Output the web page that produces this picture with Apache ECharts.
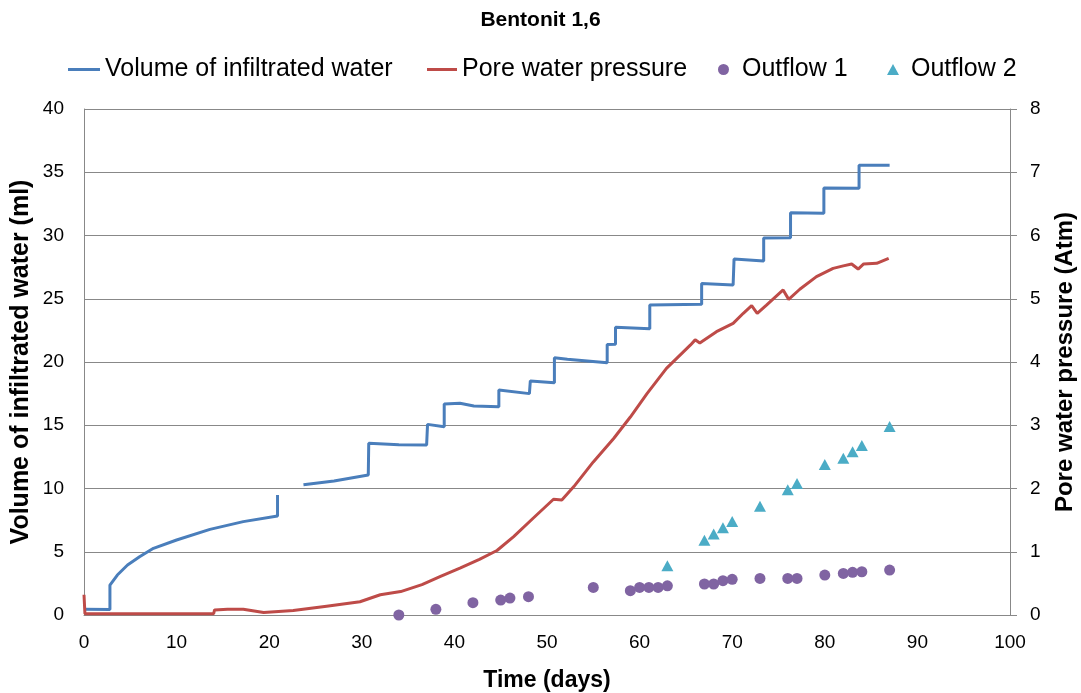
<!DOCTYPE html>
<html>
<head>
<meta charset="utf-8">
<script src="https://cdn.jsdelivr.net/npm/echarts@6/dist/echarts.min.js"></script>
<style>
  html, body { margin: 0; padding: 0; background: #fff; }
  #chart { width: 1081px; height: 693px; }
</style>
</head>
<body>
<div id="chart"></div>
<script>
// Volume of infiltrated water (ml) against time (days); null marks the logging gap
const volDays   = [0, 2.8, 2.8, 3.6, 4.7, 6.0, 7.5, 10.0, 13.6, 17.2, 20.9, 20.9, null,
                   23.7, 27.0, 30.7, 30.75, 34.0, 37.0, 37.1, 38.9, 38.9, 40.6, 42.1, 44.8, 44.8,
                   48.1, 48.2, 50.8, 50.8, 52.2, 56.5, 56.5, 57.4, 57.4, 61.1, 61.1, 66.7, 66.7,
                   70.1, 70.2, 73.4, 73.4, 76.3, 76.3, 79.9, 79.9, 83.7, 83.7, 87.0];
const volValues = [0.45, 0.43, 2.37, 3.16, 3.95, 4.6, 5.27, 5.93, 6.77, 7.38, 7.83, 9.49, null,
                   10.3, 10.6, 11.07, 13.57, 13.45, 13.44, 15.07, 14.89, 16.68, 16.74, 16.52, 16.47, 17.79,
                   17.5, 18.5, 18.36, 20.34, 20.21, 19.94, 21.38, 21.4, 22.75, 22.62, 24.5, 24.56, 26.2,
                   26.09, 28.14, 27.98, 29.8, 29.83, 31.8, 31.75, 33.75, 33.73, 35.55, 35.55];

// Pore water pressure (Atm) against time (days)
const pressDays   = [0, 0.1, 14.0, 14.1, 15.5, 17.2, 19.4, 22.6, 26.2, 29.8, 32.0, 34.2, 36.5, 38.5, 40.6,
                     42.7, 44.6, 46.4, 48.5, 50.7, 51.6, 52.9, 55.0, 57.2, 59.0, 60.8, 62.9, 65.5, 66.0,
                     66.5, 68.3, 70.1, 71.2, 72.1, 72.7, 73.7, 75.5, 76.1, 77.3, 79.1, 80.9, 82.0,
                     82.9, 83.6, 84.2, 85.6, 86.9];
const pressValues = [0.32, 0.02, 0.02, 0.08, 0.09, 0.09, 0.04, 0.07, 0.14, 0.21, 0.32, 0.37, 0.48, 0.61, 0.74,
                     0.88, 1.02, 1.24, 1.53, 1.83, 1.82, 2.03, 2.42, 2.79, 3.13, 3.5, 3.9, 4.27, 4.35,
                     4.3, 4.48, 4.61, 4.77, 4.89, 4.77, 4.9, 5.14, 4.99, 5.15, 5.35, 5.48, 5.52,
                     5.55, 5.47, 5.55, 5.56, 5.64];

// Outflow measurements (ml)
const out1Days   = [34, 38, 42, 45, 46, 48, 55, 59, 60, 61, 62, 63, 67, 68, 69, 70, 73, 76, 77, 80, 82, 83, 84, 87];
const out1Values = [0, 0.45, 0.97, 1.18, 1.34, 1.45, 2.18, 1.92, 2.18, 2.18, 2.18, 2.31, 2.45, 2.45,
                    2.71, 2.82, 2.89, 2.89, 2.89, 3.16, 3.29, 3.37, 3.42, 3.55];
const out2Days   = [63, 67, 68, 69, 70, 73, 76, 77, 80, 82, 83, 84, 87];
const out2Values = [3.9, 5.9, 6.4, 6.9, 7.4, 8.6, 9.9, 10.4, 11.9, 12.4, 12.9, 13.4, 14.9];

const seriesNames = ['Volume of infiltrated water', 'Pore water pressure', 'Outflow 1', 'Outflow 2'];
const colors = ['#4A7EBB', '#BE4B48', '#8064A2', '#4BACC6'];

const pairs = (xs, ys) => xs.map((x, i) => (x === null || ys[i] === null) ? ['-', '-'] : [x, ys[i]]);

const FONT = '"Liberation Sans", Arial, sans-serif';
const gridColor = '#888888';

const legendBase = (name, left, icon, w, h, textGap) => ({
  data: [{ name: name, icon: icon }],
  left: left, top: 57, padding: 0,
  itemWidth: w, itemHeight: h,
  symbolKeepAspect: true,
  selectedMode: false,
  textStyle: { fontFamily: FONT, fontSize: 25, color: '#000', padding: [0, 0, 0, textGap] }
});

const chart = echarts.init(document.getElementById('chart'), null, { renderer: 'canvas' });

chart.setOption({
  animation: false,
  backgroundColor: '#fff',
  title: {
    text: 'Bentonit 1,6',
    left: 'center', top: 5,
    textStyle: { fontFamily: FONT, fontSize: 21, fontWeight: 'bold', color: '#000' }
  },
  legend: [
    legendBase(seriesNames[0], 68, 'rect', 32, 3, 0),
    legendBase(seriesNames[1], 427, 'rect', 30, 3, 0),
    legendBase(seriesNames[2], 718, 'circle', 11, 11, 8),
    legendBase(seriesNames[3], 887, 'triangle', 12, 11, 7)
  ],
  grid: { left: 84, right: 71, top: 109, bottom: 78, containLabel: false, outerBoundsMode: 'none' },
  xAxis: {
    type: 'value', min: 0, max: 100, interval: 10,
    name: 'Time (days)', nameLocation: 'middle', nameGap: 54, nameMoveOverlap: false,
    nameTextStyle: { fontFamily: FONT, fontSize: 23, fontWeight: 'bold', color: '#000' },
    axisLine: { show: true, lineStyle: { color: gridColor, width: 1 } },
    axisTick: { show: false },
    splitLine: { show: false },
    axisLabel: { fontFamily: FONT, fontSize: 19, color: '#000', margin: 18 }
  },
  yAxis: [
    {
      type: 'value', min: 0, max: 40, interval: 5, position: 'left',
      name: 'Volume of infiltrated water (ml)', nameLocation: 'middle', nameGap: 50, nameRotate: 90,
      nameMoveOverlap: false,
      nameTextStyle: { fontFamily: FONT, fontSize: 25, fontWeight: 'bold', color: '#000' },
      axisLine: { show: true, lineStyle: { color: gridColor, width: 1 } },
      axisTick: { show: false },
      splitLine: { show: true, lineStyle: { color: gridColor, width: 1 } },
      axisLabel: { fontFamily: FONT, fontSize: 19, color: '#000', margin: 20 }
    },
    {
      type: 'value', min: 0, max: 8, interval: 1, position: 'right',
      name: 'Pore water pressure (Atm)', nameLocation: 'middle', nameGap: 43, nameRotate: 90,
      nameMoveOverlap: false,
      nameTextStyle: { fontFamily: FONT, fontSize: 24, fontWeight: 'bold', color: '#000' },
      axisLine: { show: true, lineStyle: { color: gridColor, width: 1 } },
      axisTick: { show: true, inside: false, length: 7, lineStyle: { color: gridColor } },
      splitLine: { show: false },
      axisLabel: { fontFamily: FONT, fontSize: 19, color: '#000', margin: 20 }
    }
  ],
  series: [
    {
      name: seriesNames[0], type: 'line', yAxisIndex: 0,
      data: pairs(volDays, volValues),
      symbol: 'none', connectNulls: false,
      lineStyle: { color: colors[0], width: 3 },
      itemStyle: { color: colors[0] }, z: 2
    },
    {
      name: seriesNames[1], type: 'line', yAxisIndex: 1,
      data: pairs(pressDays, pressValues),
      symbol: 'none',
      lineStyle: { color: colors[1], width: 3 },
      itemStyle: { color: colors[1] }, z: 2
    },
    {
      name: seriesNames[2], type: 'scatter', yAxisIndex: 0,
      data: pairs(out1Days, out1Values),
      symbol: 'circle', symbolSize: 11,
      itemStyle: { color: colors[2], opacity: 1 }, z: 3
    },
    {
      name: seriesNames[3], type: 'scatter', yAxisIndex: 0,
      data: pairs(out2Days, out2Values),
      symbol: 'triangle', symbolSize: [12, 11],
      itemStyle: { color: colors[3], opacity: 1 }, z: 3
    }
  ]
});
</script>
</body>
</html>
